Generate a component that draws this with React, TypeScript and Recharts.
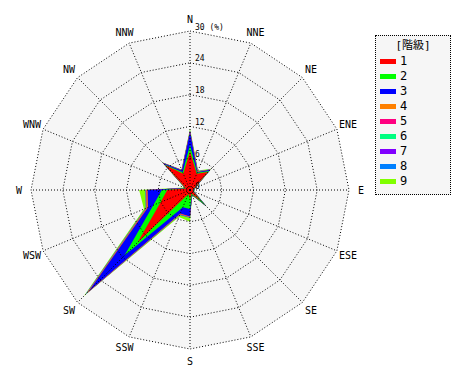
import React from 'react';
import { RadarChart, Radar, PolarGrid, PolarAngleAxis, PolarRadiusAxis } from 'recharts';

const directions = ['N', 'NNE', 'NE', 'ENE', 'E', 'ESE', 'SE', 'SSE', 'S', 'SSW', 'SW', 'WSW', 'W', 'WNW', 'NW', 'NNW'];

// frequency (%) of each class per direction, order as directions
const class1 = [7.3, 3.3, 4.8, 0.8, 0.6, 0.6, 3.0, 0.7, 1.8, 0.8, 14.0, 6.0, 4.3, 0.8, 6.7, 3.3];
const class2 = [1.2, 0.2, 0.3, 0.1, 0.1, 0.1, 1.2, 0.2, 1.8, 2.7, 3.5, 1.5, 1.0, 0.1, 0.2, 0.3];
const class3 = [2.5, 0.2, 0.3, 0.1, 0.1, 0.1, 0.1, 0.1, 1.4, 1.3, 9.5, 1.1, 2.7, 0.1, 0.3, 0.4];
const class4 = [0.1, 0.1, 0.1, 0.0, 0.0, 0.0, 0.05, 0.0, 0.1, 0.1, 0.4, 0.2, 0.2, 0.0, 0.05, 0.05];
const class5 = [0.05, 0.0, 0.0, 0.0, 0.0, 0.0, 0.05, 0.0, 0.05, 0.1, 0.2, 0.1, 0.1, 0.0, 0.05, 0.05];
const class6 = [0.05, 0.05, 0.0, 0.0, 0.0, 0.0, 0.0, 0.0, 0.05, 0.0, 0.1, 0.05, 0.0, 0.0, 0.0, 0.0];
const class7 = [0.0, 0.0, 0.0, 0.0, 0.0, 0.0, 0.0, 0.0, 0.0, 0.05, 0.1, 0.05, 0.05, 0.0, 0.0, 0.0];
const class8 = [0.05, 0.05, 0.05, 0.0, 0.0, 0.0, 0.0, 0.0, 0.1, 0.05, 0.1, 0.05, 0.05, 0.0, 0.05, 0.05];
const class9 = [0.35, 0.1, 0.15, 0.1, 0.1, 0.1, 0.1, 0.1, 0.7, 0.4, 0.4, 0.35, 1.2, 0.2, 0.05, 0.05];

const classNames = ['1', '2', '3', '4', '5', '6', '7', '8', '9'];
const classColors = ['#ff0000', '#00ff00', '#0000ff', '#ff8000', '#ff0080', '#00ff80', '#8000ff', '#0080ff', '#80ff00'];
const radiusTicks = [0, 6, 12, 18, 24, 30];
const legendTitle = '[階級]';
const unitLabel = '(%)';

const series = [class1, class2, class3, class4, class5, class6, class7, class8, class9];

const data = directions.map((dir, i) => {
  const row: Record<string, number | string> = { dir };
  let sum = 0;
  series.forEach((s, k) => {
    sum += s[i];
    row['c' + (k + 1)] = Math.round(sum * 100) / 100;
  });
  return row;
});

const CX = 190;
const CY = 190;
const R = 159;
const LABEL_R = 171;
const MONO = '"DejaVu Sans Mono", "Liberation Mono", monospace';

const AngleTick = (props: any) => {
  const { payload } = props;
  const ang = (-payload.coordinate * Math.PI) / 180;
  const x = CX + LABEL_R * Math.cos(ang);
  const y = CY + LABEL_R * Math.sin(ang);
  return (
    <text x={x} y={y} textAnchor="middle" dominantBaseline="central" fontFamily={MONO} fontSize={10} fill="#000">
      {payload.value}
    </text>
  );
};

const RadiusTick = (props: any) => {
  const { x, y, payload } = props;
  const max = radiusTicks[radiusTicks.length - 1];
  const label = payload.value === max ? `${payload.value} ${unitLabel}` : `${payload.value}`;
  return (
    <text x={x + 5} y={y - 4} textAnchor="start" dominantBaseline="central" fontFamily={MONO} fontSize={8} fill="#000">
      {label}
    </text>
  );
};

export default function App() {
  const reversed = classNames.map((_, k) => k).reverse();
  return (
    <div style={{ position: 'absolute', left: 0, top: 0, width: 470, height: 380, background: '#fff' }}>
      <RadarChart width={470} height={380} data={data} cx={CX} cy={CY} outerRadius={R} margin={{ top: 0, right: 0, bottom: 0, left: 0 }}>
        <Radar
          dataKey={() => radiusTicks[radiusTicks.length - 1]}
          fill="#f6f6f6"
          fillOpacity={1}
          stroke="none"
          isAnimationActive={false}
          legendType="none"
          {...({ zIndex: 50 } as any)}
        />
        {reversed.map((k) => (
          <Radar
            key={k}
            name={classNames[k]}
            dataKey={'c' + (k + 1)}
            fill={classColors[k]}
            fillOpacity={1}
            stroke="none"
            isAnimationActive={false}
            {...({ zIndex: 100 } as any)}
          />
        ))}
        <PolarGrid gridType="polygon" stroke="#000" strokeDasharray="1 2" {...({ zIndex: 900 } as any)} />
        <PolarAngleAxis dataKey="dir" tick={<AngleTick />} tickLine={false} axisLine={false} />
        <PolarRadiusAxis
          angle={90}
          type="number"
          domain={[0, 30]}
          ticks={radiusTicks as any}
          tickCount={6}
          axisLine={false}
          tickLine={false}
          tick={<RadiusTick />}
        />
      </RadarChart>
      <div
        style={{
          position: 'absolute',
          left: 375,
          top: 35,
          width: 74,
          height: 158,
          border: '1px dotted #000',
          background: '#f6f6f6',
          fontFamily: MONO,
        }}
      >
        <div style={{ position: 'absolute', left: 0, width: 74, top: 3, textAlign: 'center', fontSize: 11, lineHeight: '14px', fontFamily: '"DejaVu Sans Mono", "Noto Sans CJK JP", monospace' }}>
          {legendTitle}
        </div>
        {classNames.map((n, k) => (
          <div key={n} style={{ position: 'absolute', left: 4, top: 18 + k * 15, height: 14, display: 'flex', alignItems: 'center' }}>
            <div style={{ width: 16, height: 5, background: classColors[k], marginRight: 4 }} />
            <span style={{ fontSize: 12, lineHeight: '14px' }}>{n}</span>
          </div>
        ))}
      </div>
    </div>
  );
}
